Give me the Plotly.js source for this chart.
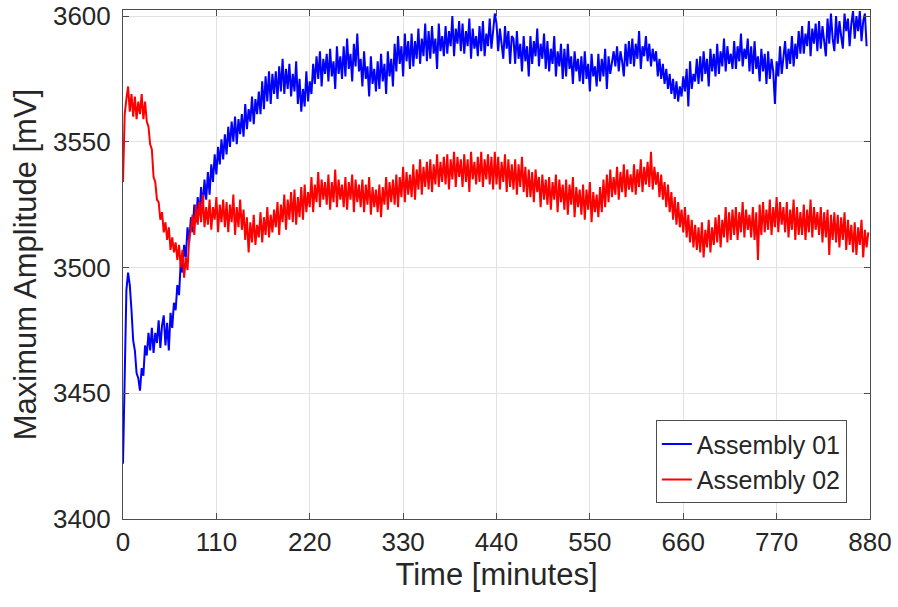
<!DOCTYPE html>
<html>
<head>
<meta charset="utf-8">
<script src="https://cdn.plot.ly/plotly-3.0.1.min.js"></script>
<style>html,body{margin:0;padding:0;background:#fff;}#chart{width:898px;height:607px;}</style>
</head>
<body>
<div id="chart"></div>
<script>
// Sampling of both recordings (minutes)
const startMinute = 0;
const sampleStepMinutes = 2;

const seriesNames = ["Assembly 01", "Assembly 02"];

// Assembly 01 maximum amplitude [mV], one value every 2 minutes
const assembly01 = [
  3422,3466,3491,3498,3493,3483,3471,3467,3458,3456,
  3451,3460,3457,3469,3465,3474,3467,3476,3466,3474,
  3470,3479,3468,3477,3481,3469,3478,3467,3482,3476,
  3486,3483,3493,3489,3502,3498,3509,3504,3516,3510,
  3520,3514,3525,3518,3528,3521,3532,3524,3535,3527,
  3538,3529,3541,3534,3545,3537,3548,3541,3551,3543,
  3553,3545,3556,3548,3558,3550,3560,3549,3559,3553,
  3561,3552,3565,3555,3563,3558,3568,3557,3567,3561,
  3570,3561,3574,3563,3576,3566,3578,3565,3577,3569,
  3578,3567,3580,3570,3583,3569,3579,3571,3581,3568,
  3577,3570,3582,3565,3575,3562,3571,3564,3578,3566,
  3574,3569,3581,3573,3584,3575,3586,3572,3583,3577,
  3585,3574,3587,3576,3582,3571,3588,3577,3584,3575,
  3588,3576,3591,3579,3585,3574,3589,3580,3593,3578,
  3583,3572,3586,3575,3580,3568,3584,3573,3579,3570,
  3582,3571,3585,3574,3581,3569,3586,3576,3583,3572,
  3589,3578,3592,3581,3588,3576,3593,3582,3590,3579,
  3593,3580,3590,3583,3595,3581,3591,3584,3597,3582,
  3594,3583,3596,3585,3591,3579,3597,3586,3592,3584,
  3596,3585,3594,3588,3600,3584,3595,3589,3598,3586,
  3597,3585,3594,3588,3599,3583,3595,3587,3592,3584,
  3596,3586,3598,3584,3593,3588,3599,3587,3594,3601,
  3597,3586,3595,3589,3583,3596,3587,3594,3581,3592,
  3591,3581,3594,3583,3589,3578,3592,3582,3588,3576,
  3592,3581,3590,3584,3595,3580,3589,3583,3593,3579,
  3590,3578,3587,3581,3592,3576,3586,3580,3589,3575,
  3587,3576,3589,3579,3584,3573,3586,3578,3583,3574,
  3584,3573,3586,3575,3581,3570,3585,3576,3580,3572,
  3585,3574,3583,3576,3587,3571,3584,3577,3582,3586,
  3580,3588,3578,3586,3582,3576,3589,3580,3590,3581,
  3591,3580,3589,3583,3594,3579,3588,3584,3592,3582,
  3589,3580,3587,3582,3586,3576,3583,3575,3581,3573,
  3579,3571,3577,3569,3575,3567,3574,3566,3572,3568,
  3576,3570,3579,3564,3582,3571,3577,3574,3583,3573,
  3584,3574,3586,3577,3583,3572,3587,3578,3585,3576,
  3589,3577,3586,3580,3591,3578,3588,3581,3585,3579,
  3590,3579,3588,3582,3593,3580,3587,3583,3591,3578,
  3588,3577,3590,3579,3584,3574,3587,3578,3585,3573,
  3586,3575,3583,3578,3565,3582,3576,3588,3577,3585,
  3590,3579,3587,3581,3592,3580,3589,3583,3594,3585,
  3596,3585,3593,3588,3598,3584,3595,3589,3597,3586,
  3598,3587,3596,3590,3584,3599,3589,3601,3591,3586,
  3600,3589,3598,3592,3587,3601,3594,3599,3588,3597,
  3602,3591,3600,3594,3602,3590,3598,3601,3588
];

// Assembly 02 maximum amplitude [mV], one value every 2 minutes
const assembly02 = [
  3534,3561,3567,3572,3562,3569,3560,3568,3559,3566,
  3561,3569,3559,3566,3558,3556,3549,3547,3536,3534,
  3527,3526,3519,3522,3514,3518,3511,3516,3507,3512,
  3506,3510,3503,3509,3500,3507,3496,3504,3499,3512,
  3515,3521,3513,3525,3517,3526,3518,3529,3516,3524,
  3517,3527,3515,3524,3519,3528,3514,3525,3518,3527,
  3516,3526,3514,3525,3518,3529,3513,3524,3516,3527,
  3515,3523,3511,3520,3506,3518,3510,3521,3509,3517,
  3512,3522,3510,3520,3513,3524,3512,3521,3514,3523,
  3516,3526,3513,3525,3518,3529,3515,3527,3519,3530,
  3518,3531,3517,3528,3520,3532,3519,3533,3522,3530,
  3524,3536,3522,3533,3526,3538,3524,3535,3527,3534,
  3525,3537,3523,3534,3526,3539,3524,3535,3527,3533,
  3524,3536,3523,3534,3527,3537,3522,3535,3526,3533,
  3524,3535,3522,3533,3525,3536,3521,3532,3524,3531,
  3522,3533,3520,3532,3525,3536,3523,3534,3526,3535,
  3525,3537,3524,3536,3528,3540,3526,3538,3529,3537,
  3528,3541,3527,3539,3531,3543,3529,3540,3532,3542,
  3531,3543,3530,3541,3533,3545,3532,3542,3534,3544,
  3533,3545,3531,3543,3535,3546,3532,3544,3536,3543,
  3532,3545,3534,3543,3530,3546,3535,3542,3533,3544,
  3534,3546,3532,3543,3535,3545,3533,3544,3531,3546,
  3533,3544,3531,3542,3534,3545,3530,3543,3532,3541,
  3531,3543,3529,3541,3532,3544,3530,3540,3528,3539,
  3528,3538,3526,3539,3530,3536,3524,3537,3527,3535,
  3525,3536,3523,3534,3527,3537,3522,3535,3526,3533,
  3523,3535,3521,3533,3525,3536,3520,3532,3524,3531,
  3521,3533,3519,3531,3523,3534,3518,3530,3522,3529,
  3520,3532,3522,3535,3524,3537,3526,3539,3528,3536,
  3529,3540,3527,3538,3530,3541,3528,3539,3531,3537,
  3530,3541,3529,3539,3532,3543,3530,3540,3533,3542,
  3532,3546,3531,3540,3533,3538,3528,3537,3527,3534,
  3524,3533,3522,3530,3519,3528,3517,3526,3516,3523,
  3514,3524,3512,3521,3510,3519,3508,3517,3507,3516,
  3506,3518,3504,3515,3508,3519,3506,3516,3509,3520,
  3510,3521,3508,3519,3512,3524,3510,3522,3511,3523,
  3513,3524,3511,3522,3514,3526,3512,3523,3515,3521,
  3512,3524,3511,3522,3503,3525,3513,3526,3514,3523,
  3515,3527,3513,3524,3516,3528,3514,3526,3517,3524,
  3514,3526,3512,3523,3515,3527,3511,3524,3513,3522,
  3513,3525,3511,3523,3514,3527,3512,3524,3515,3522,
  3513,3524,3510,3522,3512,3523,3505,3521,3511,3522,
  3510,3521,3508,3520,3511,3522,3507,3519,3509,3517,
  3506,3518,3505,3516,3509,3519,3504,3515,3508,3514
];

const xTickValues = [0,110,220,330,440,550,660,770,880];
const yTickValues = [3400,3450,3500,3550,3600];
const xTitle = "Time [minutes]";
const yTitle = "Maximum Amplitude [mV]";

const fontFamily = '"Liberation Sans", Arial, Helvetica, sans-serif';
const textColor = "#262626";
const axisColor = "#4d4d4d";
const gridColor = "#e2e2e2";

const traces = [
  { type: "scatter", mode: "lines", name: seriesNames[0], y: assembly01,
    x0: startMinute, dx: sampleStepMinutes,
    line: { color: "#0000ff", width: 2 } },
  { type: "scatter", mode: "lines", name: seriesNames[1], y: assembly02,
    x0: startMinute, dx: sampleStepMinutes,
    line: { color: "#ff0000", width: 2 } }
];

const axisCommon = {
  showline: true, linecolor: axisColor, linewidth: 1, mirror: "ticks",
  ticks: "inside", ticklen: 6, tickcolor: axisColor, tickwidth: 1,
  showgrid: true, gridcolor: gridColor, gridwidth: 1, zeroline: false,
  tickfont: { family: fontFamily, size: 26, color: textColor }
};

const layout = {
  width: 898, height: 607,
  margin: { l: 123, r: 28, t: 10, b: 88 },
  paper_bgcolor: "#ffffff", plot_bgcolor: "#ffffff",
  showlegend: true,
  legend: {
    x: 0.969, y: 0.031, xanchor: "right", yanchor: "bottom",
    bgcolor: "#ffffff", bordercolor: "#4d4d4d", borderwidth: 1,
    font: { family: fontFamily, size: 25, color: textColor },
    tracegroupgap: 0
  },
  xaxis: Object.assign({}, axisCommon, {
    range: [0, 880], tickmode: "array", tickvals: xTickValues,
    ticktext: xTickValues.map(String),
    title: { text: xTitle, font: { family: fontFamily, size: 31, color: textColor }, standoff: 5 }
  }),
  yaxis: Object.assign({}, axisCommon, {
    range: [3400, 3602.4], tickmode: "array", tickvals: yTickValues,
    ticktext: yTickValues.map(String),
    ticklabelstandoff: 6,
    title: { text: yTitle, font: { family: fontFamily, size: 31, color: textColor }, standoff: 7 }
  })
};

Plotly.newPlot("chart", traces, layout, { displayModeBar: false, staticPlot: true });
</script>
</body>
</html>
